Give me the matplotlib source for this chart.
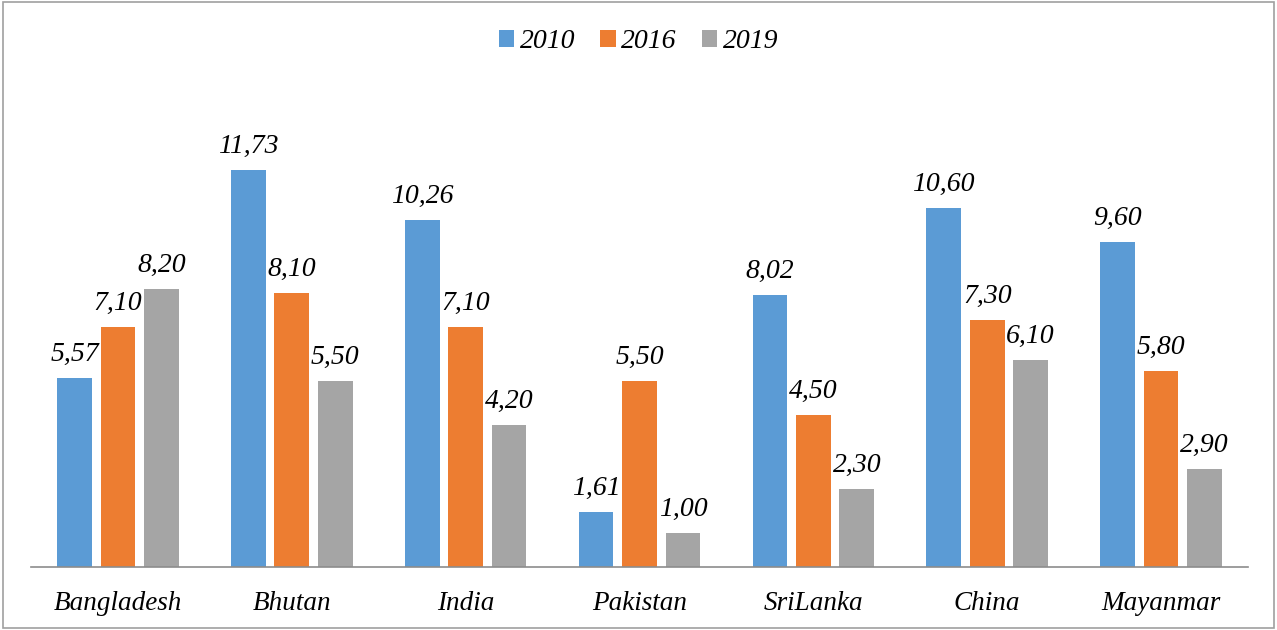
import matplotlib
matplotlib.use("Agg")
import matplotlib.pyplot as plt
import numpy as np
from matplotlib.patches import Rectangle

countries = ["Bangladesh", "Bhutan", "India", "Pakistan", "SriLanka", "China", "Mayanmar"]
years = ["2010", "2016", "2019"]
v2010 = [5.57, 11.73, 10.26, 1.61, 8.02, 10.60, 9.60]
v2016 = [7.10, 8.10, 7.10, 5.50, 4.50, 7.30, 5.80]
v2019 = [8.20, 5.50, 4.20, 1.00, 2.30, 6.10, 2.90]
colors = ["#5B9BD5", "#ED7D31", "#A5A5A5"]

plt.rcParams['font.family'] = ['Liberation Serif', 'DejaVu Serif']

fig = plt.figure(figsize=(12.77, 6.3), dpi=100)
ax = fig.add_axes([31/1277, 63/630, 1217/1277, 474/630])

x = np.arange(len(countries))
w = 0.2
offsets = [-0.25, 0.0, 0.25]
for vals, off, c, yr in zip([v2010, v2016, v2019], offsets, colors, years):
    bars = ax.bar(x + off, vals, width=w, color=c, label=yr, zorder=2)
    for b, v in zip(bars, vals):
        ax.annotate(f"{v:.2f}".replace(".", ","),
                    xy=(b.get_x() + b.get_width()/2, b.get_height()),
                    xytext=(0, 8), textcoords="offset points",
                    ha="center", va="bottom", fontsize=20, style="italic")

ax.set_xlim(-0.5, len(countries) - 0.5)
ax.set_ylim(0, 14)
ax.set_xticks(x)
ax.set_xticklabels(countries, fontsize=19.5, style="italic")
ax.tick_params(axis="x", length=0, pad=17)
ax.set_yticks([])
for s in ["top", "right", "left"]:
    ax.spines[s].set_visible(False)
ax.spines["bottom"].set_color("#8C8C8C")
ax.spines["bottom"].set_linewidth(1.2)

leg = fig.legend(loc="center", bbox_to_anchor=(0.5, 1 - 42/630),
                 ncol=3, frameon=False,
                 prop={"style": "italic", "size": 20},
                 handlelength=0.55, handleheight=0.55, handletextpad=0.2,
                 columnspacing=0.9)

fig.patches.append(Rectangle((0.002, 0.003), 0.996, 0.994, transform=fig.transFigure,
                             fill=False, edgecolor="#A0A0A0", linewidth=1.2))

fig.savefig("out.png", dpi=100)
